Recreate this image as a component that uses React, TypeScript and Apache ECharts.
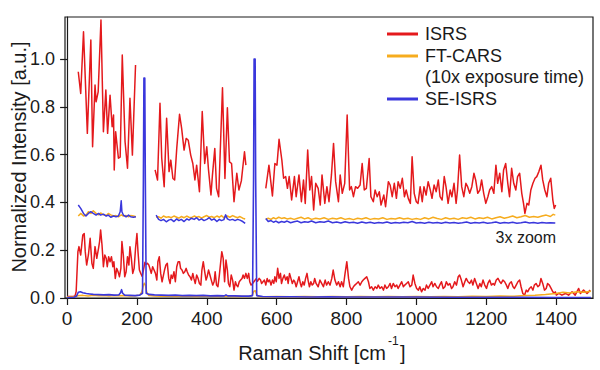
import React, { useEffect, useRef } from "react";
import * as echarts from "echarts";

const xTickValues = [0, 200, 400, 600, 800, 1000, 1200, 1400];
const yTickValues = [0, 0.2, 0.4, 0.6, 0.8, 1.0];

const legendNames = ["ISRS", "FT-CARS", "(10x exposure time)", "SE-ISRS"];
const zoomNote = "3x zoom";
const xTitle = "Raman Shift [cm";
const xTitleSup = "-1";
const yTitle = "Normalized Intensity [a.u.]";

// ISRS, full scale
const isrsLower: [number, number][] = [
  [0, 0.006], [18, 0.006], [23, 0.01], [26, 0.027], [31, 0.194], [34, 0.215], [39, 0.18], [45, 0.264], [49, 0.27],
  [52, 0.194], [56, 0.138], [61, 0.18], [66, 0.25], [71, 0.145], [75, 0.124], [80, 0.215], [85, 0.166], [90, 0.208],
  [93, 0.236], [96, 0.285], [100, 0.222], [104, 0.131], [108, 0.18], [112, 0.166], [115, 0.131], [119, 0.173],
  [123, 0.152], [127, 0.173], [131, 0.131], [134, 0.152], [138, 0.082], [142, 0.124], [146, 0.11], [150, 0.089],
  [154, 0.124], [157, 0.236], [161, 0.18], [165, 0.089], [169, 0.11], [173, 0.173], [177, 0.138], [180, 0.215],
  [184, 0.166], [188, 0.103], [192, 0.124], [196, 0.208], [200, 0.27], [203, 0.194], [207, 0.117], [211, 0.103],
  [215, 0.09], [219, 0.12], [223, 0.15], [226, 0.14], [230, 0.145], [234, 0.138], [237, 0.124], [241, 0.103],
  [245, 0.131], [249, 0.117], [253, 0.103], [257, 0.075], [260, 0.152], [264, 0.173], [268, 0.103], [272, 0.068],
  [276, 0.096], [279, 0.117], [283, 0.138], [287, 0.145], [291, 0.082], [295, 0.061], [298, 0.096], [302, 0.082],
  [306, 0.11], [310, 0.068], [314, 0.131], [318, 0.152], [322, 0.152], [325, 0.124], [329, 0.117], [333, 0.103],
  [337, 0.11], [341, 0.124], [344, 0.11], [348, 0.096], [352, 0.089], [356, 0.075], [360, 0.103], [363, 0.082],
  [367, 0.061], [371, 0.096], [375, 0.082], [379, 0.061], [383, 0.054], [386, 0.117], [390, 0.152], [394, 0.11],
  [398, 0.075], [401, 0.089], [405, 0.117], [409, 0.096], [413, 0.075], [417, 0.054], [421, 0.068], [424, 0.11],
  [428, 0.054], [432, 0.047], [436, 0.096], [440, 0.152], [443, 0.194], [447, 0.166], [451, 0.068], [455, 0.159],
  [459, 0.117], [462, 0.061], [466, 0.047], [470, 0.096], [474, 0.075], [478, 0.033], [482, 0.068], [485, 0.054],
  [489, 0.047], [493, 0.068], [497, 0.075], [501, 0.082], [504, 0.096], [508, 0.082], [512, 0.103], [516, 0.082],
  [520, 0.103], [523, 0.068], [527, 0.054], [531, 0.06], [536, 0.07], [541, 0.08], [545, 0.07], [550, 0.082],
  [554, 0.075], [557, 0.061], [561, 0.068], [565, 0.075], [569, 0.054], [573, 0.082], [576, 0.068], [580, 0.075],
  [584, 0.054], [588, 0.075], [592, 0.061], [595, 0.089], [599, 0.068], [603, 0.124], [607, 0.082], [611, 0.103],
  [614, 0.061], [618, 0.082], [622, 0.096], [626, 0.075], [630, 0.089], [633, 0.061], [637, 0.103], [641, 0.082],
  [645, 0.061], [649, 0.075], [652, 0.068], [656, 0.047], [660, 0.068], [664, 0.089], [668, 0.061], [671, 0.047],
  [675, 0.068], [679, 0.054], [683, 0.082], [687, 0.103], [690, 0.075], [694, 0.047], [698, 0.068], [702, 0.054],
  [706, 0.061], [709, 0.082], [713, 0.061], [719, 0.047], [724, 0.075], [729, 0.061], [734, 0.047], [739, 0.075],
  [743, 0.054], [748, 0.068], [753, 0.054], [758, 0.082], [762, 0.117], [767, 0.075], [772, 0.054], [777, 0.068],
  [782, 0.047], [786, 0.068], [791, 0.047], [796, 0.103], [801, 0.152], [806, 0.082], [810, 0.047], [815, 0.033],
  [820, 0.047], [824, 0.054], [829, 0.061], [834, 0.068], [839, 0.054], [844, 0.068], [848, 0.075], [853, 0.082],
  [858, 0.089], [863, 0.068], [867, 0.04], [872, 0.047], [877, 0.033], [882, 0.047], [887, 0.04], [891, 0.054],
  [896, 0.04], [901, 0.047], [906, 0.033], [910, 0.054], [915, 0.04], [920, 0.047], [925, 0.061], [929, 0.04],
  [934, 0.061], [939, 0.047], [944, 0.054], [948, 0.04], [953, 0.054], [958, 0.068], [963, 0.047], [967, 0.054],
  [972, 0.061], [977, 0.068], [982, 0.047], [987, 0.054], [991, 0.096], [996, 0.061], [1001, 0.04], [1006, 0.033],
  [1010, 0.047], [1015, 0.026], [1020, 0.04], [1025, 0.033], [1029, 0.054], [1034, 0.04], [1039, 0.054],
  [1044, 0.068], [1048, 0.047], [1053, 0.061], [1058, 0.047], [1063, 0.04], [1067, 0.054], [1072, 0.068],
  [1077, 0.04], [1082, 0.047], [1086, 0.068], [1091, 0.054], [1096, 0.061], [1101, 0.04], [1105, 0.047],
  [1110, 0.068], [1115, 0.054], [1120, 0.089], [1124, 0.096], [1129, 0.075], [1134, 0.047], [1139, 0.068],
  [1143, 0.082], [1148, 0.068], [1153, 0.061], [1158, 0.075], [1162, 0.054], [1167, 0.082], [1172, 0.061],
  [1177, 0.04], [1182, 0.061], [1186, 0.047], [1191, 0.075], [1196, 0.054], [1201, 0.04], [1205, 0.061],
  [1210, 0.075], [1215, 0.054], [1220, 0.061], [1224, 0.054], [1229, 0.075], [1234, 0.082], [1239, 0.068],
  [1243, 0.061], [1248, 0.075], [1253, 0.068], [1258, 0.054], [1262, 0.04], [1267, 0.061], [1272, 0.068],
  [1277, 0.047], [1281, 0.04], [1286, 0.054], [1291, 0.068], [1296, 0.075], [1300, 0.047], [1305, 0.019],
  [1310, 0.012], [1315, 0.033], [1319, 0.026], [1324, 0.04], [1329, 0.047], [1334, 0.033], [1338, 0.054],
  [1343, 0.061], [1348, 0.047], [1353, 0.054], [1357, 0.082], [1362, 0.061], [1367, 0.033], [1372, 0.04],
  [1376, 0.061], [1381, 0.054], [1386, 0.04], [1391, 0.026], [1395, 0.019], [1398, 0.026], [1401, 0.012],
  [1408, 0.019], [1417, 0.012], [1427, 0.019], [1436, 0.012], [1446, 0.026], [1455, 0.012], [1465, 0.04],
  [1470, 0.019], [1479, 0.033], [1489, 0.019], [1498, 0.033],
];

// ISRS, 3x zoom (three pieces)
const isrsZoomA: [number, number][] = [
  [32, 0.947], [39, 0.856], [47, 1.114], [58, 0.689], [68, 1.08], [73, 0.633], [80, 0.891], [83, 0.821], [89, 0.863],
  [97, 1.163], [104, 0.696], [111, 0.87], [116, 0.689], [123, 0.849], [129, 0.717], [133, 0.766], [135, 0.536],
  [139, 0.696], [147, 0.585], [152, 0.59], [158, 1.017], [166, 0.654], [173, 0.543], [180, 0.836], [187, 0.598],
  [196, 0.975],
];
const isrsZoomB: [number, number][] = [
  [252, 0.536], [259, 0.494], [266, 0.815], [271, 0.585], [278, 0.466], [285, 0.752], [292, 0.529], [297, 0.577],
  [303, 0.5], [308, 0.494], [314, 0.626], [322, 0.769], [328, 0.71], [335, 0.619], [341, 0.668], [347, 0.66],
  [354, 0.598], [360, 0.563], [366, 0.494], [371, 0.556], [379, 0.445], [387, 0.78], [394, 0.563], [400, 0.633],
  [405, 0.536], [412, 0.431], [416, 0.51], [423, 0.626], [428, 0.459], [434, 0.424], [445, 0.88], [452, 0.5],
  [459, 0.796], [465, 0.57], [471, 0.563], [478, 0.403], [486, 0.522], [492, 0.452], [499, 0.49], [508, 0.612],
  [512, 0.556],
];
const isrsZoomC: [number, number][] = [
  [569, 0.459], [578, 0.556], [588, 0.427], [595, 0.563], [601, 0.556], [607, 0.664], [615, 0.577], [620, 0.501],
  [626, 0.508], [631, 0.459], [636, 0.508], [643, 0.41], [651, 0.508], [656, 0.424], [664, 0.515], [671, 0.403],
  [677, 0.494], [682, 0.396], [689, 0.619], [695, 0.452], [700, 0.508], [706, 0.368], [712, 0.48], [719, 0.459],
  [725, 0.389], [730, 0.515], [738, 0.396], [744, 0.466], [750, 0.403], [757, 0.515], [763, 0.647], [769, 0.487],
  [777, 0.403], [782, 0.515], [788, 0.438], [795, 0.48], [802, 0.766], [809, 0.452], [814, 0.466], [820, 0.424],
  [826, 0.466], [832, 0.459], [839, 0.473], [845, 0.563], [851, 0.452], [857, 0.459], [865, 0.584], [870, 0.424],
  [877, 0.403], [882, 0.452], [888, 0.424], [894, 0.445], [899, 0.389], [907, 0.431], [912, 0.382], [920, 0.487],
  [925, 0.473], [931, 0.424], [937, 0.48], [943, 0.417], [948, 0.487], [954, 0.459], [960, 0.501], [966, 0.424],
  [971, 0.452], [977, 0.417], [983, 0.396], [988, 0.591], [994, 0.438], [1000, 0.403], [1005, 0.396], [1011, 0.466],
  [1017, 0.403], [1022, 0.466], [1028, 0.431], [1034, 0.487], [1040, 0.452], [1045, 0.417], [1051, 0.473],
  [1057, 0.445], [1063, 0.494], [1068, 0.424], [1074, 0.41], [1080, 0.508], [1085, 0.466], [1091, 0.396],
  [1097, 0.452], [1102, 0.424], [1108, 0.48], [1114, 0.396], [1118, 0.452], [1124, 0.598], [1130, 0.466],
  [1136, 0.424], [1142, 0.48], [1147, 0.466], [1153, 0.438], [1159, 0.466], [1165, 0.522], [1170, 0.494],
  [1176, 0.438], [1182, 0.452], [1187, 0.494], [1193, 0.438], [1199, 0.396], [1205, 0.424], [1210, 0.452],
  [1216, 0.466], [1222, 0.438], [1228, 0.556], [1233, 0.48], [1239, 0.522], [1245, 0.445], [1250, 0.536],
  [1256, 0.563], [1262, 0.48], [1267, 0.424], [1273, 0.543], [1279, 0.48], [1285, 0.452], [1290, 0.508],
  [1296, 0.522], [1302, 0.438], [1307, 0.396], [1311, 0.354], [1317, 0.396], [1322, 0.389], [1328, 0.452],
  [1334, 0.48], [1340, 0.501], [1345, 0.508], [1351, 0.529], [1357, 0.556], [1362, 0.494], [1368, 0.452],
  [1374, 0.424], [1379, 0.48], [1385, 0.501], [1391, 0.41], [1395, 0.375], [1399, 0.389],
];

// FT-CARS, full scale
const carsLower: [number, number][] = [
  [0, 0.004], [20, 0.005], [30, 0.009], [45, 0.011], [60, 0.008], [75, 0.011], [90, 0.009], [105, 0.01], [120, 0.008],
  [135, 0.01], [150, 0.009], [165, 0.01], [180, 0.008], [195, 0.009], [208, 0.012], [214, 0.025], [218, 0.05],
  [221, 0.062], [224, 0.055], [228, 0.025], [234, 0.01], [250, 0.008], [270, 0.007], [290, 0.008], [310, 0.006],
  [330, 0.008], [350, 0.007], [370, 0.006], [390, 0.008], [410, 0.007], [430, 0.006], [450, 0.008], [470, 0.006],
  [490, 0.007], [510, 0.006], [526, 0.007], [531, 0.015], [535, 0.028], [539, 0.03], [543, 0.015], [548, 0.006],
  [570, 0.005], [600, 0.006], [640, 0.005], [680, 0.006], [720, 0.005], [760, 0.006], [800, 0.005], [840, 0.006],
  [880, 0.005], [920, 0.006], [960, 0.005], [1000, 0.006], [1040, 0.005], [1080, 0.006], [1120, 0.005],
  [1160, 0.007], [1200, 0.006], [1240, 0.008], [1280, 0.007], [1310, 0.01], [1340, 0.012], [1370, 0.015],
  [1400, 0.019], [1420, 0.024], [1440, 0.021], [1460, 0.026], [1480, 0.024], [1500, 0.028],
];

// FT-CARS, 3x zoom
const carsZoomA: [number, number][] = [
  [32, 0.343], [39, 0.354], [47, 0.343], [54, 0.347], [61, 0.361], [68, 0.354], [75, 0.365], [83, 0.354], [90, 0.348],
  [96, 0.356], [104, 0.348], [112, 0.345], [118, 0.354], [125, 0.348], [133, 0.343], [140, 0.345], [147, 0.34],
  [155, 0.348], [161, 0.343], [169, 0.345], [176, 0.34], [182, 0.345], [190, 0.343], [197, 0.34],
];
const carsZoomB: [number, number][] = [
  [255, 0.338], [262, 0.34], [269, 0.334], [276, 0.343], [284, 0.338], [291, 0.34], [298, 0.336], [306, 0.343],
  [314, 0.338], [320, 0.334], [327, 0.341], [335, 0.336], [343, 0.343], [349, 0.338], [356, 0.336], [364, 0.343],
  [371, 0.338], [378, 0.341], [385, 0.334], [392, 0.34], [400, 0.345], [407, 0.338], [414, 0.341], [421, 0.336],
  [429, 0.343], [436, 0.338], [442, 0.345], [449, 0.336], [454, 0.34], [459, 0.343], [466, 0.338], [474, 0.345],
  [481, 0.34], [488, 0.336], [495, 0.341], [503, 0.334], [510, 0.331],
];
const carsZoomC: [number, number][] = [
  [569, 0.329], [576, 0.334], [584, 0.329], [591, 0.336], [598, 0.331], [606, 0.338], [614, 0.333], [622, 0.336],
  [630, 0.331], [640, 0.334], [650, 0.329], [660, 0.334], [670, 0.338], [680, 0.331], [690, 0.336], [700, 0.329],
  [712, 0.334], [724, 0.331], [736, 0.336], [748, 0.329], [760, 0.334], [772, 0.331], [784, 0.336], [796, 0.329],
  [808, 0.333], [820, 0.328], [832, 0.334], [844, 0.331], [856, 0.336], [868, 0.329], [880, 0.333], [892, 0.331],
  [904, 0.336], [916, 0.329], [928, 0.333], [940, 0.331], [952, 0.336], [964, 0.331], [976, 0.334], [988, 0.329],
  [1000, 0.333], [1012, 0.329], [1024, 0.336], [1036, 0.331], [1048, 0.338], [1060, 0.333], [1072, 0.329],
  [1084, 0.336], [1096, 0.331], [1108, 0.334], [1120, 0.329], [1132, 0.336], [1144, 0.333], [1156, 0.338],
  [1168, 0.331], [1180, 0.336], [1192, 0.333], [1204, 0.338], [1216, 0.331], [1228, 0.336], [1240, 0.34],
  [1252, 0.334], [1264, 0.338], [1276, 0.343], [1288, 0.336], [1300, 0.34], [1312, 0.345], [1324, 0.338],
  [1336, 0.341], [1348, 0.338], [1360, 0.343], [1372, 0.347], [1384, 0.341], [1392, 0.35], [1398, 0.347],
];

// SE-ISRS, full scale
const seLower: [number, number][] = [
  [0, 0.002], [20, 0.003], [27, 0.008], [32, 0.024], [38, 0.026], [45, 0.022], [55, 0.019], [65, 0.017], [75, 0.015],
  [90, 0.014], [105, 0.013], [120, 0.014], [135, 0.012], [148, 0.013], [153, 0.022], [156, 0.035], [159, 0.02],
  [165, 0.012], [180, 0.011], [195, 0.01], [208, 0.012], [216, 0.02], [218.5, 0.5], [220, 0.92], [222.5, 0.92],
  [224, 0.5], [226.5, 0.02], [235, 0.015], [250, 0.013], [270, 0.012], [290, 0.011], [310, 0.012], [330, 0.01],
  [350, 0.011], [370, 0.01], [390, 0.011], [410, 0.009], [430, 0.01], [450, 0.009], [455, 0.013], [460, 0.009],
  [480, 0.009], [500, 0.008], [520, 0.008], [531, 0.01], [534, 0.5], [535.5, 1.0], [538.5, 1.0], [540, 0.5],
  [543, 0.01], [560, 0.006], [600, 0.005], [650, 0.005], [700, 0.004], [750, 0.005], [800, 0.004], [900, 0.004],
  [1000, 0.004], [1100, 0.003], [1200, 0.003], [1300, 0.003], [1400, 0.002], [1500, 0.002],
];

// SE-ISRS, 3x zoom
const seZoomA: [number, number][] = [
  [32, 0.389], [39, 0.375], [47, 0.354], [54, 0.343], [61, 0.354], [68, 0.361], [75, 0.354], [83, 0.347], [90, 0.354],
  [96, 0.347], [104, 0.351], [112, 0.343], [118, 0.347], [125, 0.338], [133, 0.343], [140, 0.34], [147, 0.343],
  [152, 0.361], [155, 0.407], [157, 0.361], [161, 0.347], [169, 0.34], [176, 0.347], [182, 0.34], [190, 0.338],
  [197, 0.34],
];
const seZoomB: [number, number][] = [
  [255, 0.347], [262, 0.329], [269, 0.324], [276, 0.329], [284, 0.319], [291, 0.326], [298, 0.329], [306, 0.32],
  [314, 0.331], [320, 0.324], [327, 0.329], [335, 0.32], [343, 0.331], [349, 0.326], [356, 0.334], [364, 0.329],
  [371, 0.336], [378, 0.326], [385, 0.331], [392, 0.324], [400, 0.329], [407, 0.336], [414, 0.326], [421, 0.331],
  [429, 0.32], [436, 0.329], [442, 0.324], [449, 0.328], [454, 0.348], [459, 0.331], [466, 0.326], [474, 0.329],
  [481, 0.324], [488, 0.329], [495, 0.326], [503, 0.32], [510, 0.312],
];
const seZoomC: [number, number][] = [
  [569, 0.333], [576, 0.32], [584, 0.324], [591, 0.317], [598, 0.322], [606, 0.315], [614, 0.32], [622, 0.317],
  [630, 0.322], [640, 0.315], [650, 0.319], [660, 0.322], [670, 0.315], [680, 0.319], [690, 0.317], [700, 0.322],
  [712, 0.315], [724, 0.319], [736, 0.317], [748, 0.322], [760, 0.315], [772, 0.318], [784, 0.314], [796, 0.319],
  [808, 0.315], [820, 0.317], [832, 0.313], [844, 0.318], [856, 0.314], [868, 0.317], [880, 0.313], [892, 0.316],
  [904, 0.314], [916, 0.318], [928, 0.313], [940, 0.316], [952, 0.314], [964, 0.317], [976, 0.315], [988, 0.32],
  [1000, 0.314], [1012, 0.316], [1024, 0.313], [1036, 0.317], [1048, 0.314], [1060, 0.316], [1072, 0.313],
  [1084, 0.317], [1096, 0.314], [1108, 0.316], [1120, 0.313], [1132, 0.315], [1144, 0.318], [1156, 0.313],
  [1168, 0.316], [1180, 0.314], [1192, 0.317], [1204, 0.313], [1216, 0.315], [1228, 0.318], [1240, 0.313],
  [1252, 0.316], [1264, 0.314], [1276, 0.317], [1288, 0.313], [1300, 0.315], [1312, 0.318], [1324, 0.314],
  [1336, 0.316], [1348, 0.313], [1360, 0.316], [1372, 0.314], [1384, 0.315], [1398, 0.314],
];

const RED = "#e4191c";
const ORANGE = "#f6ac1e";
const BLUE = "#3a37dc";
const INK = "#1a1a1a";
const FONT = "'Liberation Sans', Arial, Helvetica, sans-serif";

function lineSeries(name: string, data: [number, number][], color: string, width = 1.5, z = 2) {
  return {
    name,
    type: "line",
    data,
    showSymbol: false,
    symbol: "none",
    z,
    lineStyle: { color, width, join: "round" },
    itemStyle: { color },
    silent: true,
  };
}

export default function App() {
  const ref = useRef<HTMLDivElement>(null);

  useEffect(() => {
    if (!ref.current) return;
    const chart = echarts.init(ref.current, undefined, { renderer: "svg" });
    const legendColors = [RED, ORANGE, null, BLUE];
    const legendYs = [34, 56, 77, 99];
    const legendGraphics: any[] = [];
    legendNames.forEach((n, i) => {
      const c = legendColors[i];
      if (c) {
        legendGraphics.push({
          type: "line",
          shape: { x1: 387, y1: legendYs[i], x2: 418, y2: legendYs[i] },
          style: { stroke: c, lineWidth: 3 },
          silent: true,
        });
      }
      legendGraphics.push({
        type: "text",
        x: 425,
        y: legendYs[i],
        style: { text: n, fill: INK, font: `18px ${FONT}`, align: "left", verticalAlign: "middle" },
        silent: true,
      });
    });

    chart.setOption({
      animation: false,
      backgroundColor: "#ffffff",
      grid: {
        left: 65,
        right: 7,
        top: 17,
        bottom: 72,
        show: true,
        borderColor: INK,
        borderWidth: 1.2,
        backgroundColor: "transparent",
      },
      xAxis: {
        type: "value",
        min: -6,
        max: 1506,
        splitLine: { show: false },
        axisLine: { show: true, lineStyle: { color: INK, width: 1.2 } },
        axisTick: { show: true, inside: false, length: 7, customValues: xTickValues, lineStyle: { color: INK, width: 1.2 } },
        axisLabel: {
          customValues: xTickValues,
          color: INK,
          fontSize: 19,
          fontFamily: FONT,
          margin: 11,
          formatter: (v: number) => String(v),
        },
      },
      yAxis: {
        type: "value",
        min: 0,
        max: 1.176,
        splitLine: { show: false },
        axisLine: { show: true, lineStyle: { color: INK, width: 1.2 } },
        axisTick: { show: true, inside: false, length: 7, customValues: yTickValues, lineStyle: { color: INK, width: 1.2 } },
        axisLabel: {
          customValues: yTickValues,
          color: INK,
          fontSize: 18,
          fontFamily: FONT,
          margin: 10,
          formatter: (v: number) => v.toFixed(1),
        },
      },
      series: [
        lineSeries("ISRS", isrsLower, RED, 1.5, 2),
        lineSeries("ISRS zoom A", isrsZoomA, RED, 1.5, 2),
        lineSeries("ISRS zoom B", isrsZoomB, RED, 1.5, 2),
        lineSeries("ISRS zoom C", isrsZoomC, RED, 1.5, 2),
        lineSeries("FT-CARS", carsLower, ORANGE, 1.5, 3),
        lineSeries("FT-CARS zoom A", carsZoomA, ORANGE, 1.5, 3),
        lineSeries("FT-CARS zoom B", carsZoomB, ORANGE, 1.5, 3),
        lineSeries("FT-CARS zoom C", carsZoomC, ORANGE, 1.5, 3),
        lineSeries("SE-ISRS", seLower, BLUE, 1.6, 4),
        lineSeries("SE-ISRS zoom A", seZoomA, BLUE, 1.5, 4),
        lineSeries("SE-ISRS zoom B", seZoomB, BLUE, 1.5, 4),
        lineSeries("SE-ISRS zoom C", seZoomC, BLUE, 1.5, 4),
      ],
      graphic: [
        ...legendGraphics,
        {
          type: "text",
          x: 556,
          y: 237,
          style: { text: zoomNote, fill: INK, font: `16px ${FONT}`, align: "right", verticalAlign: "middle" },
          silent: true,
        },
        {
          type: "text",
          x: 19,
          y: 157,
          rotation: Math.PI / 2,
          style: { text: yTitle, fill: INK, font: `20px ${FONT}`, align: "center", verticalAlign: "middle" },
          silent: true,
        },
        {
          type: "text",
          x: 386,
          y: 353,
          style: { text: xTitle, fill: INK, font: `20px ${FONT}`, align: "right", verticalAlign: "middle" },
          silent: true,
        },
        {
          type: "text",
          x: 388,
          y: 341,
          style: { text: xTitleSup, fill: INK, font: `12px ${FONT}`, align: "left", verticalAlign: "middle" },
          silent: true,
        },
        {
          type: "text",
          x: 400,
          y: 353,
          style: { text: "]", fill: INK, font: `20px ${FONT}`, align: "left", verticalAlign: "middle" },
          silent: true,
        },
      ],
    });
    return () => chart.dispose();
  }, []);

  return (
    <div
      ref={ref}
      style={{ position: "fixed", left: 0, top: 0, width: 600, height: 370, background: "#fff" }}
    />
  );
}
